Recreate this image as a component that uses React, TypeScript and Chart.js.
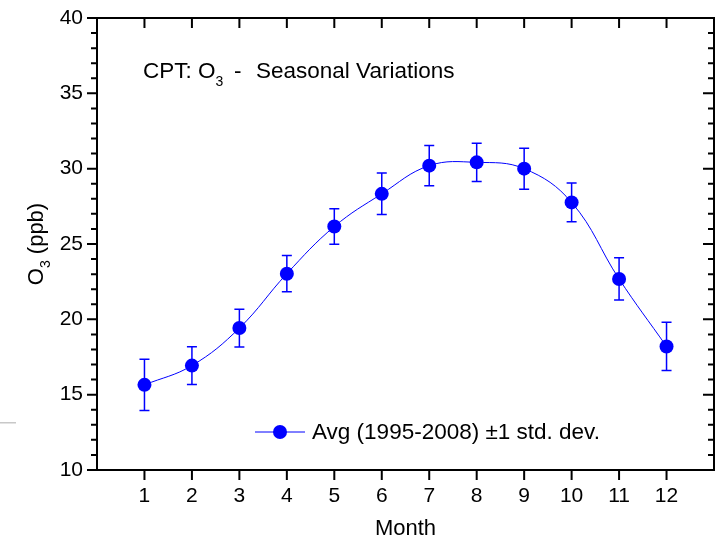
import React, { useEffect, useRef } from "react";
import { Chart, registerables } from "chart.js";

Chart.register(...registerables);

const months = [1, 2, 3, 4, 5, 6, 7, 8, 9, 10, 11, 12];
const avgO3 = [15.65, 16.93, 19.42, 23.03, 26.16, 28.33, 30.2, 30.42, 30.0, 27.76, 22.68, 18.2];
const stdDev = [1.7, 1.25, 1.25, 1.2, 1.18, 1.38, 1.33, 1.27, 1.36, 1.29, 1.4, 1.6];
const yMin = 10;
const yMax = 40;
const xMin = 0;
const xMax = 13;
const titleText = ["CPT: O", "3", "-", "Seasonal Variations"];
const yTitleText = ["O", "3", " (ppb)"];
const xTitleText = "Month";
const legendText = "Avg (1995-2008) \u00B11 std. dev.";

const BLUE = "#0000ff";
const FONT = "'Liberation Sans', Arial, sans-serif";

const decorPlugin = {
  id: "decor",
  beforeDatasetsDraw(chart: any) {
    const ctx = chart.ctx;
    const xs = chart.scales.x;
    const ys = chart.scales.y;
    ctx.save();
    ctx.strokeStyle = BLUE;
    ctx.lineWidth = 1.5;
    months.forEach((m, i) => {
      const x = xs.getPixelForValue(m);
      const yt = ys.getPixelForValue(avgO3[i] + stdDev[i]);
      const yb = ys.getPixelForValue(avgO3[i] - stdDev[i]);
      ctx.beginPath();
      ctx.moveTo(x, yt);
      ctx.lineTo(x, yb);
      ctx.moveTo(x - 5, yt);
      ctx.lineTo(x + 5, yt);
      ctx.moveTo(x - 5, yb);
      ctx.lineTo(x + 5, yb);
      ctx.stroke();
    });
    ctx.restore();
  },
  afterDraw(chart: any) {
    const ctx = chart.ctx;
    const xs = chart.scales.x;
    const ys = chart.scales.y;
    const { left, right, top, bottom } = chart.chartArea;
    ctx.save();
    // frame
    ctx.strokeStyle = "#000";
    ctx.lineWidth = 2;
    ctx.strokeRect(left, top, right - left, bottom - top);
    // ticks
    ctx.beginPath();
    for (let v = yMin; v <= yMax; v++) {
      const y = ys.getPixelForValue(v);
      const major = v % 5 === 0;
      ctx.moveTo(left - (major ? 10 : 6), y);
      ctx.lineTo(left, y);
      ctx.moveTo(right, y);
      ctx.lineTo(right - (major ? 11 : 6), y);
    }
    months.forEach((m) => {
      const x = xs.getPixelForValue(m);
      ctx.moveTo(x, bottom);
      ctx.lineTo(x, bottom + 10);
      ctx.moveTo(x, top);
      ctx.lineTo(x, top + 10);
    });
    ctx.stroke();

    // title
    ctx.fillStyle = "#000";
    ctx.textBaseline = "alphabetic";
    ctx.textAlign = "left";
    ctx.font = `22.5px ${FONT}`;
    ctx.fillText(titleText[0], 143, 78);
    const w0 = ctx.measureText(titleText[0]).width;
    ctx.font = `14px ${FONT}`;
    ctx.fillText(titleText[1], 143 + w0, 86);
    ctx.font = `22.5px ${FONT}`;
    ctx.fillText(titleText[2], 234, 78);
    ctx.fillText(titleText[3], 256, 78);

    // legend
    const ly = 432;
    ctx.strokeStyle = BLUE;
    ctx.lineWidth = 1;
    ctx.beginPath();
    ctx.moveTo(255, ly);
    ctx.lineTo(305, ly);
    ctx.stroke();
    ctx.fillStyle = BLUE;
    ctx.beginPath();
    ctx.arc(280, ly, 7, 0, Math.PI * 2);
    ctx.fill();
    ctx.fillStyle = "#000";
    ctx.font = `22.5px ${FONT}`;
    ctx.textBaseline = "middle";
    ctx.fillText(legendText, 312, ly + 1);

    // x title
    ctx.font = `22px ${FONT}`;
    ctx.textAlign = "center";
    ctx.textBaseline = "middle";
    ctx.fillText(xTitleText, (left + right) / 2, 529);

    // y title (rotated)
    ctx.save();
    ctx.translate(35, (top + bottom) / 2);
    ctx.rotate(-Math.PI / 2);
    ctx.textAlign = "left";
    ctx.textBaseline = "alphabetic";
    ctx.font = `22px ${FONT}`;
    const wO = ctx.measureText(yTitleText[0]).width;
    ctx.font = `14px ${FONT}`;
    const w3 = ctx.measureText(yTitleText[1]).width;
    ctx.font = `22px ${FONT}`;
    const wR = ctx.measureText(yTitleText[2]).width;
    const total = wO + w3 + wR;
    const x0 = -total / 2;
    ctx.fillText(yTitleText[0], x0, 8);
    ctx.font = `14px ${FONT}`;
    ctx.fillText(yTitleText[1], x0 + wO, 15);
    ctx.font = `22px ${FONT}`;
    ctx.fillText(yTitleText[2], x0 + wO + w3, 8);
    ctx.restore();

    // stray gray mark at left edge
    ctx.fillStyle = "#c8c8c8";
    ctx.fillRect(0, 422, 16, 1.5);
    ctx.restore();
  },
};

export default function App() {
  const ref = useRef<HTMLCanvasElement | null>(null);
  useEffect(() => {
    if (!ref.current) return;
    const chart = new Chart(ref.current, {
      type: "line",
      data: {
        datasets: [
          {
            label: legendText,
            data: months.map((m, i) => ({ x: m, y: avgO3[i] })),
            borderColor: BLUE,
            backgroundColor: BLUE,
            borderWidth: 1,
            pointRadius: 7,
            pointBorderWidth: 0,
            pointBackgroundColor: BLUE,
            tension: 0.4,
            fill: false,
          },
        ],
      },
      options: {
        responsive: false,
        animation: false,
        layout: { padding: { top: 18, right: 8, left: 0, bottom: 0 } },
        plugins: { legend: { display: false }, tooltip: { enabled: false } },
        scales: {
          x: {
            type: "linear",
            min: xMin,
            max: xMax,
            grid: { display: false, drawTicks: false },
            border: { display: false },
            ticks: {
              stepSize: 1,
              autoSkip: false,
              maxRotation: 0,
              color: "#000",
              font: { family: FONT, size: 21 },
              padding: 14,
              callback: (v: any) => (v >= 1 && v <= 12 ? String(v) : ""),
            },
            afterFit: (s: any) => {
              s.height = 78;
              s.paddingLeft = 0;
              s.paddingRight = 0;
              s.paddingTop = 0;
              s.paddingBottom = 0;
            },
          },
          y: {
            min: yMin,
            max: yMax,
            grid: { display: false, drawTicks: false },
            border: { display: false },
            ticks: {
              stepSize: 5,
              color: "#000",
              font: { family: FONT, size: 21 },
              padding: 14,
            },
            afterFit: (s: any) => {
              s.width = 97;
              s.paddingTop = 0;
              s.paddingBottom = 0;
              s.paddingLeft = 0;
              s.paddingRight = 0;
            },
          },
        },
      },
      plugins: [decorPlugin],
    });
    return () => chart.destroy();
  }, []);
  return (
    <div style={{ position: "fixed", left: 0, top: 0, width: 722, height: 548, background: "#fff" }}>
      <canvas ref={ref} width={722} height={548} />
    </div>
  );
}
